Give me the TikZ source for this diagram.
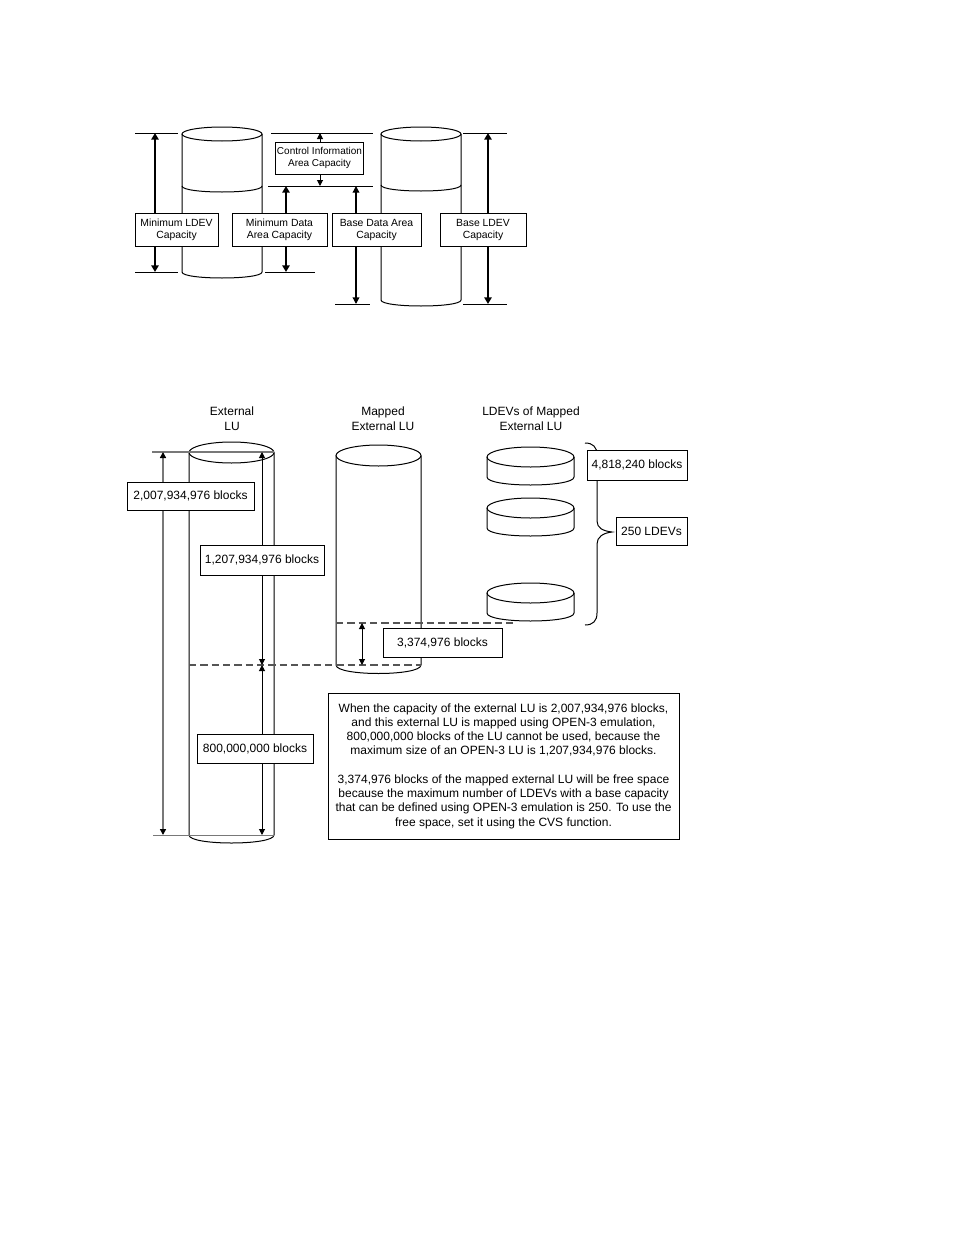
\documentclass[tikz,border=0pt]{standalone}
\usepackage{fontspec}
\setmainfont{Liberation Sans}
\usetikzlibrary{arrows.meta}
\definecolor{dimgray}{RGB}{120,120,120}
\definecolor{dashgray}{RGB}{85,85,85}
\newcommand\drawcyl[6]{%
  \draw[thinline] ({(#1+#2)/2},#3) ellipse [x radius={(#2-#1)/2}, y radius=#4];
  \draw[thinline] (#1,#3) -- (#1,#5) .. controls (#1,{#5+1.333*#6}) and (#2,{#5+1.333*#6}) .. (#2,#5) -- (#2,#3);}
\begin{document}
\begin{tikzpicture}[x=0.75pt,y=-0.75pt,
  thinline/.style={line width=0.75pt},
  thickarr/.style={line width=1.7pt,-{Triangle[length=5pt,width=5.5pt]}},
  medarr/.style={line width=1.0pt,-{Triangle[length=5pt,width=5pt]}},
  thinarr/.style={line width=0.75pt,-{Triangle[length=4.5pt,width=4.5pt]}},
  bothtip/.style={line width=0.75pt,{Triangle[length=4.5pt,width=4.5pt]}-{Triangle[length=4.5pt,width=4.5pt]}},
  grayarr/.style={line width=1.1pt,draw=dimgray,-{Triangle[length=4.5pt,width=4.5pt,color=black]}},
  grayline/.style={line width=1.1pt,draw=dimgray},
  dashline/.style={line width=0.9pt,draw=dashgray,dash pattern=on 5.5pt off 3pt},
  sz/.style 2 args={minimum width=#1*0.75pt, minimum height=#2*0.75pt},
  tbox/.style={draw, fill=white, line width=0.75pt, inner sep=0pt, align=center,
    font=\fontsize{7.8pt}{9pt}\selectfont},
  bbox/.style={draw, fill=white, line width=0.75pt, inner sep=0pt, align=center,
    font=\fontsize{9pt}{10.7pt}\selectfont},
  title/.style={align=center, inner sep=0pt, font=\fontsize{9pt}{11.5pt}\selectfont}
]
\useasboundingbox (0,0) rectangle (954,1235);

% ---------------- top diagram ----------------
\drawcyl{182}{262}{134}{7}{272}{6}
\draw[thinline] (182,186) .. controls (182,194) and (262,194) .. (262,186);
\drawcyl{381}{461}{134}{7}{300}{6}
\draw[thinline] (381,185) .. controls (381,193) and (461,193) .. (461,185);

\draw[thinline] (135,133) -- (178,133);
\draw[thinline] (135,272) -- (178,272);
\draw[thinline] (271,133) -- (373,133);
\draw[thinline] (268,186) -- (373,186);
\draw[thinline] (265,272) -- (315,272);
\draw[thinline] (335,304) -- (370,304);
\draw[thinline] (463,133) -- (507,133);
\draw[thinline] (463,304) -- (507,304);

\coordinate (a1t) at (155,133); \coordinate (a1b) at (155,272);
\coordinate (a2t) at (286,186); \coordinate (a2b) at (286,272);
\coordinate (a3t) at (320,133); \coordinate (a3b) at (320,186);
\coordinate (a4t) at (356,186); \coordinate (a4b) at (356,304);
\coordinate (a5t) at (488,133); \coordinate (a5b) at (488,304);

\node[tbox, sz={83}{33}] (minldev) at (176.5,229.5) {Minimum LDEV\\Capacity};
\node[tbox, sz={95}{33}] (mindata) at (279.5,229.5) {Minimum Data\\Area Capacity};
\node[tbox, sz={88}{32}, font=\fontsize{7.5pt}{9pt}\selectfont] (ctrl) at (319.5,158) {Control Information\\Area Capacity};
\node[tbox, sz={89}{33}] (basedata) at (376.5,229.5) {Base Data Area\\Capacity};
\node[tbox, sz={86}{33}] (baseldev) at (483,229.5) {Base LDEV\\Capacity};

\draw[thickarr] (minldev.north -| a1t) -- (a1t);
\draw[thickarr] (minldev.south -| a1b) -- (a1b);
\draw[thickarr] (mindata.north -| a2t) -- (a2t);
\draw[thickarr] (mindata.south -| a2b) -- (a2b);
\draw[thinarr] (ctrl.north -| a3t) -- (a3t);
\draw[thinarr] (ctrl.south -| a3b) -- (a3b);
\draw[medarr] (basedata.north -| a4t) -- (a4t);
\draw[medarr] (basedata.south -| a4b) -- (a4b);
\draw[thickarr] (baseldev.north -| a5t) -- (a5t);
\draw[thickarr] (baseldev.south -| a5b) -- (a5b);

% ---------------- bottom diagram ----------------
\node[title] (tExt) at (232,418.5) {External\\LU};
\node[title] (tMap) at (383,418.5) {Mapped\\External LU};
\node[title] (tLdev) at (531,418.5) {LDEVs of Mapped\\External LU};

% external LU cylinder
\drawcyl{189}{274}{452.5}{10.5}{835}{8}
% mapped external LU cylinder
\drawcyl{336}{421}{455.5}{10.5}{665}{8.5}
% LDEV disks
\drawcyl{487}{574}{457}{10}{477}{8}
\drawcyl{487}{574}{508}{10}{528}{8}
\drawcyl{487}{574}{593}{10}{613}{8}

% brace
\draw[thinline] (585,443) .. controls (593,443) and (597,447) .. (597,455) -- (597,521)
  .. controls (597,528) and (603,531) .. (612,532)
  .. controls (603,533) and (597,537) .. (597,544) -- (597,613)
  .. controls (597,621) and (593,625) .. (585,625);

% dimension lines
\draw[grayline] (152,452) -- (274,452);
\draw[grayline] (153,835.5) -- (274,835.5);
\draw[dashline] (189,665) -- (421,665);
\draw[dashline] (336,623) -- (517,623);

\coordinate (g1t) at (163,452); \coordinate (g1b) at (163,835);
\coordinate (u1t) at (262,452); \coordinate (u1m) at (262,665); \coordinate (u1b) at (262,835);
\coordinate (f1t) at (362,623); \coordinate (f1b) at (362,665);

\node[bbox, sz={127}{28}] (b2007) at (190.5,496) {2,007,934,976 blocks};
\node[bbox, sz={124}{30}] (b1207) at (262,560) {1,207,934,976 blocks};
\node[bbox, sz={116}{29}] (b800) at (255,748.5) {800,000,000 blocks};
\node[bbox, sz={119}{29}] (b3374) at (442.5,642.5) {3,374,976 blocks};
\node[bbox, sz={100}{30}] (b4818) at (637,465) {4,818,240 blocks};
\node[bbox, sz={71}{28}] (b250) at (651.5,531) {250 LDEVs};

\draw[grayarr] (b2007.north -| g1t) -- (g1t);
\draw[grayarr] (b2007.south -| g1b) -- (g1b);
\draw[thinarr] (b1207.north -| u1t) -- (u1t);
\draw[thinarr] (b1207.south -| u1m) -- (u1m);
\draw[thinarr] (b800.north -| u1m) -- (u1m);
\draw[thinarr] (b800.south -| u1b) -- (u1b);
\draw[bothtip] (f1t) -- (f1b);

\node[bbox, sz={351}{146}] (note) at (503.5,766) {When the capacity of the external LU is 2,007,934,976 blocks,\\
and this external LU is mapped using OPEN-3 emulation,\\
800,000,000 blocks of the LU cannot be used, because the\\
maximum size of an OPEN-3 LU is 1,207,934,976 blocks.\\[10.7pt]
3,374,976 blocks of the mapped external LU will be free space\\
because the maximum number of LDEVs with a base capacity\\
that can be defined using OPEN-3 emulation is 250. To use the\\
free space, set it using the CVS function.};
\end{tikzpicture}
\end{document}
